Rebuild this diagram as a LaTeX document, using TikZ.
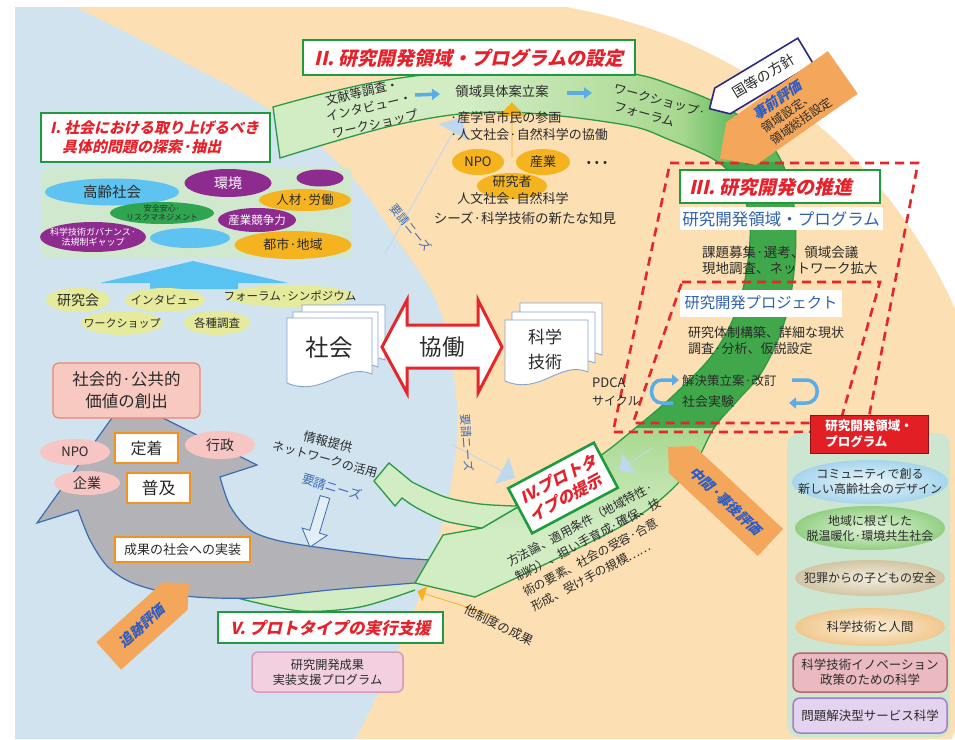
\documentclass[tikz,border=0pt]{standalone}
\usepackage{fontspec}
\setmainfont{Noto Sans CJK JP}
\newfontfamily\ttl[FakeSlant=0.22]{Noto Sans CJK JP}
\usetikzlibrary{shapes.geometric,shapes.arrows,arrows.meta}
\newcommand\fs[2]{\fontsize{#1}{#2}\selectfont}
\definecolor{bgblue}{HTML}{D0E3EE}
\definecolor{tanc}{HTML}{FCDFB3}
\definecolor{issuegreen}{HTML}{CFE8CE}
\definecolor{skyell}{HTML}{5EC3F0}
\definecolor{purp}{HTML}{8E2B8E}
\definecolor{goldell}{HTML}{F5B41F}
\definecolor{greenell}{HTML}{2FA551}
\definecolor{yg}{HTML}{E5EA9C}
\definecolor{skyarrow}{HTML}{58C2F0}
\definecolor{tgreen}{HTML}{1E9B3E}
\definecolor{tred}{HTML}{E5222B}
\definecolor{pinkfill}{HTML}{F8C9C1}
\definecolor{pinkdraw}{HTML}{EE8570}
\definecolor{oborder}{HTML}{F29320}
\definecolor{pinkell}{HTML}{F7C5C3}
\definecolor{grayA}{HTML}{B3B3B7}
\definecolor{blueline}{HTML}{3B6BB5}
\definecolor{pale}{HTML}{BFD8EE}
\definecolor{bandpale}{HTML}{D2ECC4}
\definecolor{bandlight}{HTML}{A8D88F}
\definecolor{bandmid}{HTML}{5DB85A}
\definecolor{banddark}{HTML}{40A84B}
\definecolor{bandedge}{HTML}{2A9A45}
\definecolor{redd}{HTML}{E5262B}
\definecolor{orangeA}{HTML}{F4A65B}
\definecolor{evalblue}{HTML}{2D5CC2}
\definecolor{navyb}{HTML}{2B2A83}
\definecolor{goldA}{HTML}{F2B321}
\definecolor{pageblue}{HTML}{86A3D0}
\definecolor{txtc}{HTML}{2A2A2A}
\definecolor{tblue}{HTML}{2F62B0}
\definecolor{cycblue}{HTML}{5AADE6}
\definecolor{rlab}{HTML}{E31F26}
\definecolor{rpanel}{HTML}{CDE6D1}
\definecolor{pinkbox}{HTML}{F2D0E0}
\definecolor{pinkboxd}{HTML}{D99AB8}
\definecolor{pAin}{HTML}{E9F5FA}\definecolor{pAout}{HTML}{A6D5EC}
\definecolor{pBin}{HTML}{E3F3DA}\definecolor{pBout}{HTML}{93CF83}
\definecolor{pCin}{HTML}{F1ECDD}\definecolor{pCout}{HTML}{D2C5A4}
\definecolor{pDin}{HTML}{FCEFD9}\definecolor{pDout}{HTML}{F0C88E}
\definecolor{pEfill}{HTML}{EABAC0}\definecolor{pEdraw}{HTML}{B8646F}
\definecolor{pFfill}{HTML}{E4D3EE}\definecolor{pFdraw}{HTML}{A27FC2}
\newcommand\docpage[4]{\filldraw[fill=white,draw=pageblue,line width=0.9pt] (#1,#2) -- (#3,#2) -- (#3,#4-12) .. controls (#3-28,#4-24) and (#1+35,#4+12) .. (#1,#4-3) -- cycle;}
\def\bandpath{(273,107) -- plot[smooth,tension=0.6] coordinates {(273,107) (330,92) (400,78) (500,68) (620,72) (680,88) (735,113) (775,150) (793,200) (795,260) (785,320) (763,370) (738,400) (714,428) (690,470) (640,515) (560,557) (475,597)} -- (415,583) -- (443,535) -- (482,528) -- plot[smooth,tension=0.6] coordinates {(482,528) (560,482) (600,456) (633,430) (676,393) (716,350) (740,300) (750,240) (745,200) (722,165) (670,140) (620,124) (500,112) (400,124) (280,158)} -- cycle}
\begin{document}
\begin{tikzpicture}[x=1pt,y=-1pt,
  every node/.style={inner sep=0pt,text=txtc},
  tline/.style={draw=tgreen,line width=2.6pt,fill=white},
  obox/.style={draw=oborder,line width=1.8pt,fill=white},
  eva/.style={single arrow,single arrow head extend=0pt,single arrow tip angle=90,fill=orangeA,text=evalblue,font=\ttl\bfseries\fs{14}{16}},
  palea/.style={single arrow,fill=pale,single arrow tip angle=90},
  smallarr/.style={-{Triangle[length=8pt,width=11pt]},line width=3.5pt,draw=cycblue},
  cyc/.style={-{Triangle[length=7pt,width=11pt]},line width=3.5pt,draw=cycblue}]
\useasboundingbox (0,0) rectangle (955,739);
% ---------- background
\fill[white] (0,0) rectangle (955,739);
\fill[tanc] (15,7) -- (571,7) -- plot[domain=-80.6:24.9,samples=60] ({480+520*cos(\x)},{520+520*sin(\x)}) -- (951,739) -- (15,739) -- cycle;
\fill[bgblue] (15,7) -- plot[smooth,tension=0.7] coordinates {(75,7) (170,55) (270,110) (345,170) (397,240) (438,305) (453,370) (457,430) (450,490) (435,550) (410,620) (375,700) (355,739)} -- (15,739) -- cycle;
% ---------- pale arrows (needs)
\node[palea,minimum height=157,minimum width=34,single arrow head extend=7,rotate=60.7] (pa1) at (423,186) {};
\node[palea,minimum height=72,minimum width=30,single arrow head extend=7,rotate=-27.6] (pa2) at (483,461) {};
% ---------- strip to V
\fill[bandpale] (233,597) -- plot[smooth] coordinates {(233,597) (300,611) (360,607) (415,590)} -- (430,560) -- (233,560) -- cycle;
\draw[bandedge,line width=1.3pt] plot[smooth] coordinates {(233,597) (300,611) (360,607) (415,590)};
% ---------- gray arrow
\filldraw[fill=grayA,draw=blueline,line width=1.2pt] (119,408) -- (37,523) -- (78,510) -- plot[smooth] coordinates {(78,510) (90,540) (108,567) (135,584) (185,596) (253,598) (330,590) (427,582)} -- (430,560) -- plot[smooth] coordinates {(400,558) (330,549) (280,541) (250,530) (230,506) (220,477)} -- (257,465) -- (143,408) -- cycle;
% ---------- green band
\begin{scope}
\clip \bandpath;
\fill[bandpale] (200,0) rectangle (900,739);
\shade[left color=bandpale,right color=bandlight] (470,0) rectangle (680,162);
\shade[left color=bandlight,right color=bandmid] (680,0) rectangle (740,162);
\fill[bandmid] (740,0) rectangle (820,162);
\fill[banddark] (600,162) rectangle (820,428);
\shade[top color=bandlight,bottom color=bandpale] (400,428) rectangle (820,530);
\end{scope}
\draw[bandedge,line width=1.3pt] \bandpath;
% curved arrow to info
\filldraw[fill=bandpale,draw=bandedge,line width=1.3pt] (374,481) -- (389,463) -- plot[smooth] coordinates {(412,482) (445,497) (480,504) (515,506)} -- (560,482) -- (482,528) -- plot[smooth] coordinates {(482,528) (445,521) (417,508) (402,498)} -- (395,506) -- cycle;
% arrows inside band
\node[palea,minimum height=40,minimum width=24,single arrow head extend=5,rotate=-145.5] (pa3) at (636,459) {};
\draw[smallarr] (415,95) -- (440,94);
\draw[smallarr] (567,93) -- (592,93);
\node[single arrow,fill=goldA,single arrow tip angle=90,minimum height=55,minimum width=28,single arrow head extend=6,rotate=90] (ga1) at (512,130) {};
\node[single arrow,fill=goldA,single arrow tip angle=90,minimum height=83,minimum width=16,single arrow head extend=4,rotate=162.4] (ga2) at (457,604) {};
% ---------- dashed boxes
\draw[redd,line width=2.6pt,dash pattern=on 9pt off 6pt] (670,163) -- (918,163) -- (866,432) -- (613,432) -- cycle;
\draw[redd,line width=2.6pt,dash pattern=on 9pt off 6pt] (682,282) -- (880,282) -- (840,423) -- (633,423) -- cycle;
% ---------- titles
\draw[tline] (41,113) rectangle (270,162);
\node[text=tred,font=\ttl\bfseries\fs{15}{19},align=left,anchor=west] (t1) at (50,137.5) {I. 社会における取り上げるべき\\\hspace*{0.8em}具体的問題の探索·抽出};
\draw[tline] (303,40) rectangle (635,75);
\node[text=tred,font=\ttl\bfseries\fs{19}{22}] (t2) at (469,58) {II. 研究開発領域・プログラムの設定};
\draw[tline] (680,170) rectangle (880,203);
\node[text=tred,font=\ttl\bfseries\fs{19}{22}] (t3) at (771,187) {III. 研究開発の推進};
\node[tline,rotate=28,minimum width=97,minimum height=51,align=left,text=tred,font=\ttl\bfseries\fs{16}{20}] (t4) at (563,488) {IV.プロトタ\\イプの提示};
\draw[tline] (218,612) rectangle (443,643);
\node[text=tred,font=\ttl\bfseries\fs{16.5}{20}] (t5) at (330.5,628) {V. プロトタイプの実行支援};
% ---------- issue panel
\fill[issuegreen,rounded corners=5] (42,168) rectangle (352,258);
\fill[skyell] (112,192) ellipse [x radius=67,y radius=13.5];
\node[font=\fs{14.5}{16}] (e1) at (112,192) {高齢社会};
\fill[purp] (228,183) ellipse [x radius=43.5,y radius=14];
\node[font=\fs{14}{16},text=white] (e2) at (228,183) {環境};
\fill[purp] (320,178) ellipse [x radius=23.5,y radius=8.5];
\fill[goldell] (305,200) ellipse [x radius=46,y radius=11];
\node[font=\fs{12.5}{14}] (e4) at (305,200) {人材·労働};
\fill[greenell] (162,213) ellipse [x radius=52,y radius=11];
\node[font=\fs{8}{9},align=center] (e5) at (162,213) {安全安心·\\リスクマネジメント};
\fill[purp] (257,220) ellipse [x radius=39,y radius=12];
\node[font=\fs{11.5}{13},text=white] (e6) at (257,220) {産業競争力};
\fill[purp] (93,237) ellipse [x radius=53,y radius=15];
\node[font=\fs{9}{10.5},text=white,align=center] (e7) at (93,237) {科学技術ガバナンス·\\法規制ギャップ};
\fill[skyell] (190,238) ellipse [x radius=40,y radius=10];
\fill[goldell] (293,245) ellipse [x radius=58.5,y radius=14];
\node[font=\fs{13}{15}] (e9) at (293,245) {都市·地域};
\fill[skyarrow] (193,261) -- (288,283) -- (238,283) -- (238,289) -- (150,289) -- (150,283) -- (100,283) -- cycle;
\fill[yg] (78,300) ellipse [x radius=32,y radius=12];
\node[font=\fs{14}{16}] (m1) at (78,300) {研究会};
\fill[yg] (165,300) ellipse [x radius=40,y radius=12];
\node[font=\fs{11.5}{13}] (m2) at (165,300) {インタビュー};
\fill[yg] (290,296) ellipse [x radius=64,y radius=11];
\node[font=\fs{11.5}{13}] (m3) at (290,296) {フォーラム·シンポジウム};
\fill[yg] (122,323) ellipse [x radius=41,y radius=12];
\node[font=\fs{11}{13}] (m4) at (122,323) {ワークショップ};
\fill[yg] (217,323) ellipse [x radius=33,y radius=12];
\node[font=\fs{11.5}{13}] (m5) at (217,323) {各種調査};
% ---------- documents and cooperation arrow
\docpage{302}{305}{385}{372}
\docpage{293}{312}{378}{379}
\docpage{287}{318}{372}{386}
\node[font=\fs{23.5}{26}] (soc) at (329,348) {社会};
\docpage{520}{303}{602}{367}
\docpage{512}{312}{595}{375}
\docpage{505}{320}{588}{384}
\node[font=\fs{17}{25},align=center] (sci) at (545,349) {科学\\技術};
\filldraw[fill=white,draw=redd,line width=3pt,line join=miter] (382,347) -- (407,300) -- (407,325) -- (478,325) -- (478,300) -- (502,347) -- (478,393) -- (478,368) -- (407,368) -- (407,393) -- cycle;
\node[font=\fs{22.5}{24}] (kd) at (442,347) {協働};
% ---------- left bottom: social value
\node[draw=pinkdraw,fill=pinkfill,rounded corners=6,line width=1.2pt,minimum width=147,minimum height=55,align=center,font=\fs{16.5}{22}] (sv) at (126.5,390.5) {社会的·公共的\\価値の創出};
\fill[pinkell] (75,452) ellipse [x radius=35,y radius=13];
\node[font=\fs{13}{15}] (p1) at (75,452) {NPO};
\fill[pinkell] (220,445) ellipse [x radius=35,y radius=14];
\node[font=\fs{14}{16}] (p2) at (220,445) {行政};
\fill[pinkell] (87,483) ellipse [x radius=33,y radius=12];
\node[font=\fs{14}{16}] (p3) at (87,483) {企業};
\node[obox,minimum width=63,minimum height=30,font=\fs{16}{18}] (b1) at (146.5,448) {定着};
\node[obox,minimum width=63,minimum height=30,font=\fs{17}{19}] (b2) at (158.5,488) {普及};
\node[obox,minimum width=135,minimum height=25,font=\fs{13}{15}] (b3) at (182.5,549.5) {成果の社会への実装};
\node[font=\fs{12.5}{14},rotate=-14] (i1) at (328,442) {情報提供};
\node[font=\fs{12}{14},rotate=-15] (i2) at (325,459) {ネットワークの活用};
\node[font=\fs{12.5}{14},rotate=-17,text=blueline] (i3) at (332,487) {要請ニーズ};
\filldraw[fill=bgblue!60!white,draw=blueline,line width=0.8pt] (320.2,495.6) -- (329.8,498.4) -- (319.4,533.1) -- (327.1,535.4) -- (310,547) -- (302.1,528) -- (309.8,530.3) -- cycle;
\node[rounded corners=6,fill=pinkbox,draw=pinkboxd,line width=1.5pt,minimum width=151,minimum height=40,align=center,font=\fs{12.2}{15}] (pb) at (327.5,672) {研究開発成果\\実装支援プログラム};
% ---------- band texts
\node[font=\fs{12.5}{14},rotate=13] (w1) at (362,92) {文献等調査・};
\node[font=\fs{12.5}{14},rotate=13] (w2) at (369,107) {インタビュー・};
\node[font=\fs{12.5}{14},rotate=13] (w3) at (375,124) {ワークショップ};
\node[font=\fs{13.3}{15}] (w4) at (502,91) {領域具体案立案};
\node[font=\fs{12.5}{14},rotate=-15,anchor=west] (w5) at (614,88) {ワークショップ·};
\node[font=\fs{12.5}{14},rotate=-15,anchor=west] (w6) at (614,106) {フォーラム};
\node[font=\fs{13}{14},anchor=west] (w7) at (450,118) {·産学官市民の参画};
\node[font=\fs{13}{14},anchor=west] (w8) at (450,135) {·人文社会·自然科学の協働};
\fill[goldell] (478,162) ellipse [x radius=26,y radius=13];
\node[font=\fs{13}{15}] (g1) at (478,162) {NPO};
\fill[goldell] (543,162) ellipse [x radius=27,y radius=13];
\node[font=\fs{13}{15}] (g2) at (543,162) {産業};
\fill[goldell] (512,186) ellipse [x radius=35,y radius=13];
\node[font=\fs{13}{15}] (g3) at (512,182) {研究者};
\node[font=\fs{13}{15}] (g4) at (513,199) {人文社会·自然科学};
\node[font=\fs{12}{15}] (g5) at (597,164) {•\,\,•\,\,•};
\node[font=\fs{13.5}{15}] (g6) at (525,218) {シーズ·科学技術の新たな知見};
\node[font=\fs{11.5}{13},rotate=-51,text=blueline] (n1) at (411,228) {要請ニーズ};
\node[font=\fs{11.5}{13},rotate=-86,text=blueline] (n2) at (467,443) {要請ニーズ};
% ---------- policy and evaluation arrows
\node[single arrow,single arrow head extend=0pt,single arrow tip angle=90,shape border rotate=180,draw=navyb,line width=1.6pt,fill=white,minimum height=112,minimum width=30,rotate=31,font=\fs{14}{16}] (pol) at (764,76) {国等の方針};
\node[eva,shape border rotate=180,minimum height=150,minimum width=52,rotate=35,align=left,text=txtc,font=\fs{12}{15}] (ev1) at (792,108) {{\ttl\bfseries\fs{14}{16}\color{evalblue}事前評価}\\領域設定、\\領域総括設定};
\node[eva,shape border rotate=180,minimum height=140,minimum width=37,rotate=-43] (ev2) at (726,501) {中間·事後評価};
\node[eva,minimum height=108,minimum width=37,rotate=42] (ev3) at (142,626) {追跡評価};
% ---------- III area
\fill[white] (680,207) rectangle (883,230);
\node[font=\fs{16.5}{18},text=tblue] (s1) at (781,219) {研究開発領域・プログラム};
\node[font=\fs{13.5}{15},anchor=west] (s2) at (702,252) {課題募集·選考、領域会議};
\node[font=\fs{13.5}{15},anchor=west] (s3) at (702,268) {現地調査、ネットワーク拡大};
\fill[white] (680,290) rectangle (842,317);
\node[font=\fs{15.3}{17},text=tblue] (s4) at (761,303) {研究開発プロジェクト};
\node[font=\fs{13}{15},anchor=west] (s5) at (688,333) {研究体制構築、詳細な現状};
\node[font=\fs{13}{15},anchor=west] (s6) at (688,349) {調査·分析、仮説設定};
\node[font=\fs{13}{15},anchor=west] (s7) at (592,383) {PDCA};
\node[font=\fs{12}{14},anchor=west] (s8) at (592,401) {サイクル};
\node[font=\fs{12.5}{14},anchor=west] (s9) at (682,381) {解決策立案·改訂};
\node[font=\fs{13}{15},anchor=west] (s10) at (682,402) {社会実験};
\draw[cyc] (673,403) -- (662,403) .. controls (648,403) and (648,380) .. (662,380) -- (679,380);
\draw[cyc] (792,380) -- (806,380) .. controls (821,380) and (821,403) .. (806,403) -- (789,403);
% ---------- IV texts
\node[font=\fs{12}{17},rotate=28,align=left] (x1) at (592,547) {方法論、適用条件（地域特性·\\制約）、担い手育成·確保、技\\術の要素、社会の受容·合意\\形成、受け手の規模……};
\node[font=\fs{12.5}{14},rotate=-26] (x2) at (499,625) {他制度の成果};
% ---------- right panel
\fill[rpanel,rounded corners=12] (787,433) rectangle (950,737);
\shade[inner color=pAin,outer color=pAout] (870,482) ellipse [x radius=78,y radius=22];
\node[font=\fs{12}{15},align=center] (r1) at (870,482) {コミュニティで創る\\新しい高齢社会のデザイン};
\shade[inner color=pBin,outer color=pBout] (870,528) ellipse [x radius=75,y radius=22];
\node[font=\fs{12}{15},align=center] (r2) at (870,528) {地域に根ざした\\脱温暖化·環境共生社会};
\shade[inner color=pCin,outer color=pCout] (870,578) ellipse [x radius=75,y radius=18];
\node[font=\fs{12}{14}] (r3) at (870,578) {犯罪からの子どもの安全};
\shade[inner color=pDin,outer color=pDout] (870,627) ellipse [x radius=75,y radius=19];
\node[font=\fs{12.4}{14}] (r4) at (870,627) {科学技術と人間};
\node[rounded corners=7,fill=pEfill,draw=pEdraw,line width=1.5pt,minimum width=154,minimum height=39,align=center,font=\fs{12.5}{15}] (r5) at (870,672.5) {科学技術イノベーション\\政策のための科学};
\node[rounded corners=7,fill=pFfill,draw=pFdraw,line width=1.5pt,minimum width=154,minimum height=35,font=\fs{12.5}{15}] (r6) at (870,715.5) {問題解決型サービス科学};
\node[fill=rlab,draw=rlab!60!black,line width=0.6pt,minimum width=118,minimum height=38,text=white,align=left,font=\bfseries\fs{12.5}{16}] (r0) at (869,434) {研究開発領域・\\プログラム};
\end{tikzpicture}
\end{document}
